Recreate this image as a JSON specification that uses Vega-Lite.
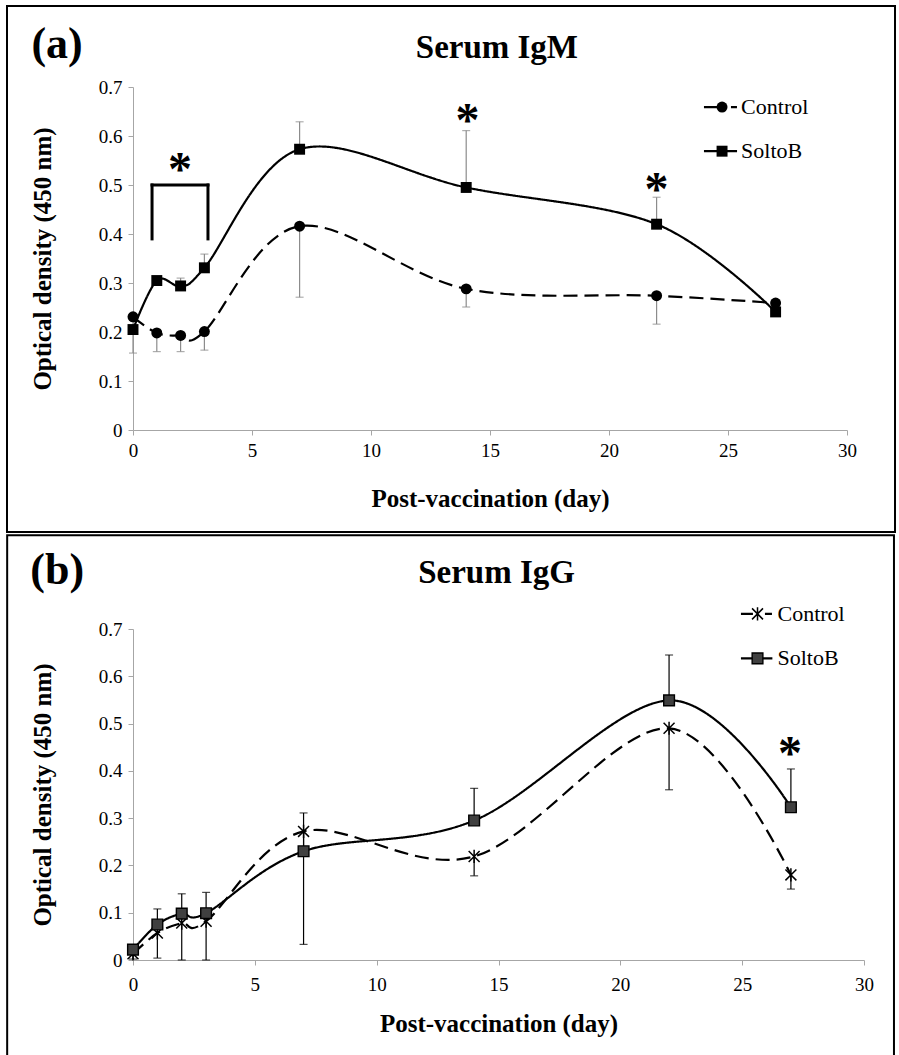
{
  "$schema": "https://vega.github.io/schema/vega-lite/v6.json",
  "autosize": {"type": "pad"},
  "padding": {"left": 6, "top": 5, "right": 0, "bottom": 0},
  "background": "white",
  "config": {
    "view": {"stroke": null},
    "font": "Liberation Serif",
    "style": {"guide-label": {"font": "Liberation Serif"}, "guide-title": {"font": "Liberation Serif"}},
    "axis": {"grid": false, "domainColor": "#a6a6a6", "tickColor": "#a6a6a6", "tickSize": 5, "labelFontSize": 19, "labelColor": "black", "labelFlush": false, "labelOverlap": false, "titleFontSize": 25, "titleFontWeight": "bold", "titleColor": "black", "labelFont": "Liberation Serif", "titleFont": "Liberation Serif"}
  },
  "spacing": 0,
  "datasets": {
    "pts": [
      {"panel": "a", "group": "Control", "day": 0, "od": 0.231, "err": 0.157},
      {"panel": "a", "group": "Control", "day": 1, "od": 0.198, "err": 0.160},
      {"panel": "a", "group": "Control", "day": 2, "od": 0.193, "err": 0.160},
      {"panel": "a", "group": "Control", "day": 3, "od": 0.201, "err": 0.163},
      {"panel": "a", "group": "Control", "day": 7, "od": 0.416, "err": 0.271},
      {"panel": "a", "group": "Control", "day": 14, "od": 0.288, "err": 0.251},
      {"panel": "a", "group": "Control", "day": 22, "od": 0.274, "err": 0.216},
      {"panel": "a", "group": "Control", "day": 27, "od": 0.259, "err": null},
      {"panel": "a", "group": "SoltoB", "day": 0, "od": 0.205, "err": null},
      {"panel": "a", "group": "SoltoB", "day": 1, "od": 0.305, "err": null},
      {"panel": "a", "group": "SoltoB", "day": 2, "od": 0.294, "err": 0.310},
      {"panel": "a", "group": "SoltoB", "day": 3, "od": 0.331, "err": 0.359},
      {"panel": "a", "group": "SoltoB", "day": 7, "od": 0.573, "err": 0.629},
      {"panel": "a", "group": "SoltoB", "day": 14, "od": 0.495, "err": 0.611},
      {"panel": "a", "group": "SoltoB", "day": 22, "od": 0.420, "err": 0.475},
      {"panel": "a", "group": "SoltoB", "day": 27, "od": 0.241, "err": null},
      {"panel": "b", "group": "Control", "day": 0, "od": 0.013, "err": 0.002},
      {"panel": "b", "group": "Control", "day": 1, "od": 0.057, "err": 0.004},
      {"panel": "b", "group": "Control", "day": 2, "od": 0.078, "err": 0.0},
      {"panel": "b", "group": "Control", "day": 3, "od": 0.082, "err": 0.0},
      {"panel": "b", "group": "Control", "day": 7, "od": 0.272, "err": 0.033},
      {"panel": "b", "group": "Control", "day": 14, "od": 0.219, "err": 0.178},
      {"panel": "b", "group": "Control", "day": 22, "od": 0.490, "err": 0.360},
      {"panel": "b", "group": "Control", "day": 27, "od": 0.180, "err": 0.150},
      {"panel": "b", "group": "SoltoB", "day": 0, "od": 0.022, "err": null},
      {"panel": "b", "group": "SoltoB", "day": 1, "od": 0.075, "err": 0.108},
      {"panel": "b", "group": "SoltoB", "day": 2, "od": 0.098, "err": 0.140},
      {"panel": "b", "group": "SoltoB", "day": 3, "od": 0.099, "err": 0.143},
      {"panel": "b", "group": "SoltoB", "day": 7, "od": 0.230, "err": 0.311},
      {"panel": "b", "group": "SoltoB", "day": 14, "od": 0.295, "err": 0.363},
      {"panel": "b", "group": "SoltoB", "day": 22, "od": 0.549, "err": 0.645},
      {"panel": "b", "group": "SoltoB", "day": 27, "od": 0.323, "err": 0.404}
    ]
  },
  "vconcat": [
    {
      "width": 714,
      "height": 343,
      "layer": [
        {
          "data": {"name": "pts"},
          "transform": [{"filter": "datum.panel == 'a'"}],
          "mark": {"type": "line", "interpolate": "cardinal", "strokeWidth": 2.2, "color": "black"},
          "encoding": {
            "x": {"field": "day", "type": "quantitative", "title": "Post-vaccination (day)", "scale": {"domain": [0, 30], "nice": false},
              "axis": {"title": "Post-vaccination (day)", "values": [0, 5, 10, 15, 20, 25, 30], "labelPadding": 6, "titlePadding": 26, "labelFont": "Liberation Serif", "titleFont": "Liberation Serif", "labelFontSize": 19, "titleFontSize": 25}},
            "y": {"field": "od", "type": "quantitative", "title": "Optical density (450 nm)", "scale": {"domain": [0, 0.7], "nice": false},
              "axis": {"title": "Optical density (450 nm)", "values": [0, 0.1, 0.2, 0.3, 0.4, 0.5, 0.6, 0.7], "format": ".1~f", "labelPadding": 6, "titlePadding": 43, "labelFont": "Liberation Serif", "titleFont": "Liberation Serif", "labelFontSize": 19, "titleFontSize": 25}},
            "strokeDash": {"field": "group", "type": "nominal", "scale": {"domain": ["Control", "SoltoB"], "range": [[14, 7], [1, 0]]}, "legend": null}
          }
        },
        {
          "data": {"values": [{}]},
          "mark": {"type": "rect", "fillOpacity": 0, "stroke": "black", "strokeWidth": 2},
          "encoding": {
            "x": {"datum": -5.294, "type": "quantitative", "scale": {"domain": [0, 30], "nice": false}},
            "x2": {"datum": 32.017},
            "y": {"datum": 0.8653, "type": "quantitative", "scale": {"domain": [0, 0.7], "nice": false}},
            "y2": {"datum": -0.2082}
          }
        },
        {
          "data": {"name": "pts"},
          "transform": [{"filter": "datum.panel == 'a' && isValid(datum.err)"}],
          "mark": {"type": "rule", "color": "#8c8c8c", "strokeWidth": 1.2},
          "encoding": {
            "x": {"field": "day", "type": "quantitative", "scale": {"domain": [0, 30], "nice": false}},
            "y": {"field": "od", "type": "quantitative", "scale": {"domain": [0, 0.7], "nice": false}},
            "y2": {"field": "err"}
          }
        },
        {
          "data": {"name": "pts"},
          "transform": [{"filter": "datum.panel == 'a' && isValid(datum.err)"}],
          "mark": {"type": "tick", "orient": "horizontal", "size": 8, "thickness": 1.2, "color": "#8c8c8c"},
          "encoding": {
            "x": {"field": "day", "type": "quantitative", "scale": {"domain": [0, 30], "nice": false}},
            "y": {"field": "err", "type": "quantitative", "scale": {"domain": [0, 0.7], "nice": false}}
          }
        },
        {
          "data": {"name": "pts"},
          "transform": [{"filter": "datum.panel == 'a'"}],
          "mark": {"type": "point", "filled": true, "color": "black", "opacity": 1, "size": 120},
          "encoding": {
            "x": {"field": "day", "type": "quantitative", "scale": {"domain": [0, 30], "nice": false}},
            "y": {"field": "od", "type": "quantitative", "scale": {"domain": [0, 0.7], "nice": false}},
            "shape": {"field": "group", "type": "nominal", "scale": {"domain": ["Control", "SoltoB"], "range": ["circle", "square"]}, "legend": null}
          }
        },
        {
          "data": {"values": [{}]},
          "mark": {"type": "rule", "color": "black", "strokeWidth": 3, "strokeCap": "square"},
          "encoding": {
            "x": {"datum": 0.8, "type": "quantitative", "scale": {"domain": [0, 30], "nice": false}},
            "y": {"datum": 0.39, "type": "quantitative", "scale": {"domain": [0, 0.7], "nice": false}},
            "y2": {"datum": 0.5}
          }
        },
        {
          "data": {"values": [{}]},
          "mark": {"type": "rule", "color": "black", "strokeWidth": 3, "strokeCap": "square"},
          "encoding": {
            "x": {"datum": 3.15, "type": "quantitative", "scale": {"domain": [0, 30], "nice": false}},
            "y": {"datum": 0.39, "type": "quantitative", "scale": {"domain": [0, 0.7], "nice": false}},
            "y2": {"datum": 0.5}
          }
        },
        {
          "data": {"values": [{}]},
          "mark": {"type": "rule", "color": "black", "strokeWidth": 3, "strokeCap": "square"},
          "encoding": {
            "x": {"datum": 0.8, "type": "quantitative", "scale": {"domain": [0, 30], "nice": false}},
            "x2": {"datum": 3.15},
            "y": {"datum": 0.5, "type": "quantitative", "scale": {"domain": [0, 0.7], "nice": false}}
          }
        },
        {
          "data": {"values": [{}]},
          "mark": {"type": "text", "text": "*", "fontSize": 48, "fontWeight": "bold", "align": "center", "baseline": "alphabetic", "dy": 23, "color": "black"},
          "encoding": {
            "x": {"datum": 1.97, "type": "quantitative", "scale": {"domain": [0, 30], "nice": false}},
            "y": {"datum": 0.547, "type": "quantitative", "scale": {"domain": [0, 0.7], "nice": false}}
          }
        },
        {
          "data": {"values": [{}]},
          "mark": {"type": "text", "text": "*", "fontSize": 48, "fontWeight": "bold", "align": "center", "baseline": "alphabetic", "dy": 23, "color": "black"},
          "encoding": {
            "x": {"datum": 14.05, "type": "quantitative", "scale": {"domain": [0, 30], "nice": false}},
            "y": {"datum": 0.646, "type": "quantitative", "scale": {"domain": [0, 0.7], "nice": false}}
          }
        },
        {
          "data": {"values": [{}]},
          "mark": {"type": "text", "text": "*", "fontSize": 48, "fontWeight": "bold", "align": "center", "baseline": "alphabetic", "dy": 23, "color": "black"},
          "encoding": {
            "x": {"datum": 22, "type": "quantitative", "scale": {"domain": [0, 30], "nice": false}},
            "y": {"datum": 0.507, "type": "quantitative", "scale": {"domain": [0, 0.7], "nice": false}}
          }
        },
        {
          "data": {"values": [{}]},
          "mark": {"type": "text", "text": "Serum IgM", "fontSize": 33, "fontWeight": "bold", "align": "center", "baseline": "middle", "color": "black"},
          "encoding": {
            "x": {"datum": 15.29, "type": "quantitative", "scale": {"domain": [0, 30], "nice": false}},
            "y": {"datum": 0.78, "type": "quantitative", "scale": {"domain": [0, 0.7], "nice": false}}
          }
        },
        {
          "data": {"values": [{}]},
          "mark": {"type": "text", "text": "(a)", "fontSize": 44, "fontWeight": "bold", "align": "center", "baseline": "middle", "color": "black"},
          "encoding": {
            "x": {"datum": -3.19, "type": "quantitative", "scale": {"domain": [0, 30], "nice": false}},
            "y": {"datum": 0.785, "type": "quantitative", "scale": {"domain": [0, 0.7], "nice": false}}
          }
        },
        {
          "data": {"values": [{}]},
          "mark": {"type": "rule", "color": "black", "strokeWidth": 2.2, "strokeDash": [14, 13, 6, 50]},
          "encoding": {
            "x": {"datum": 23.99, "type": "quantitative", "scale": {"domain": [0, 30], "nice": false}},
            "x2": {"datum": 25.38},
            "y": {"datum": 0.659, "type": "quantitative", "scale": {"domain": [0, 0.7], "nice": false}}
          }
        },
        {
          "data": {"values": [{}]},
          "mark": {"type": "point", "shape": "circle", "filled": true, "color": "black", "opacity": 1, "size": 120},
          "encoding": {
            "x": {"datum": 24.75, "type": "quantitative", "scale": {"domain": [0, 30], "nice": false}},
            "y": {"datum": 0.659, "type": "quantitative", "scale": {"domain": [0, 0.7], "nice": false}}
          }
        },
        {
          "data": {"values": [{}]},
          "mark": {"type": "text", "text": "Control", "fontSize": 22, "align": "left", "baseline": "middle", "color": "black"},
          "encoding": {
            "x": {"datum": 25.55, "type": "quantitative", "scale": {"domain": [0, 30], "nice": false}},
            "y": {"datum": 0.659, "type": "quantitative", "scale": {"domain": [0, 0.7], "nice": false}}
          }
        },
        {
          "data": {"values": [{}]},
          "mark": {"type": "rule", "color": "black", "strokeWidth": 2.2},
          "encoding": {
            "x": {"datum": 23.99, "type": "quantitative", "scale": {"domain": [0, 30], "nice": false}},
            "x2": {"datum": 25.38},
            "y": {"datum": 0.569, "type": "quantitative", "scale": {"domain": [0, 0.7], "nice": false}}
          }
        },
        {
          "data": {"values": [{}]},
          "mark": {"type": "point", "shape": "square", "filled": true, "color": "black", "opacity": 1, "size": 120},
          "encoding": {
            "x": {"datum": 24.75, "type": "quantitative", "scale": {"domain": [0, 30], "nice": false}},
            "y": {"datum": 0.569, "type": "quantitative", "scale": {"domain": [0, 0.7], "nice": false}}
          }
        },
        {
          "data": {"values": [{}]},
          "mark": {"type": "text", "text": "SoltoB", "fontSize": 22, "align": "left", "baseline": "middle", "color": "black"},
          "encoding": {
            "x": {"datum": 25.55, "type": "quantitative", "scale": {"domain": [0, 30], "nice": false}},
            "y": {"datum": 0.569, "type": "quantitative", "scale": {"domain": [0, 0.7], "nice": false}}
          }
        }
      ]
    },
    {
      "width": 731,
      "height": 331,
      "layer": [
        {
          "data": {"name": "pts"},
          "transform": [{"filter": "datum.panel == 'b'"}],
          "mark": {"type": "line", "interpolate": "cardinal", "strokeWidth": 2.2, "color": "black"},
          "encoding": {
            "x": {"field": "day", "type": "quantitative", "title": "Post-vaccination (day)", "scale": {"domain": [0, 30], "nice": false},
              "axis": {"title": "Post-vaccination (day)", "values": [0, 5, 10, 15, 20, 25, 30], "labelPadding": 10, "titlePadding": 17, "labelFont": "Liberation Serif", "titleFont": "Liberation Serif", "labelFontSize": 19, "titleFontSize": 25}},
            "y": {"field": "od", "type": "quantitative", "title": "Optical density (450 nm)", "scale": {"domain": [0, 0.7], "nice": false},
              "axis": {"title": "Optical density (450 nm)", "values": [0, 0.1, 0.2, 0.3, 0.4, 0.5, 0.6, 0.7], "format": ".1~f", "labelPadding": 6, "titlePadding": 43, "labelFont": "Liberation Serif", "titleFont": "Liberation Serif", "labelFontSize": 19, "titleFontSize": 25}},
            "strokeDash": {"field": "group", "type": "nominal", "scale": {"domain": ["Control", "SoltoB"], "range": [[14, 7], [1, 0]]}, "legend": null}
          }
        },
        {
          "data": {"values": [{}]},
          "mark": {"type": "rect", "fillOpacity": 0, "stroke": "black", "strokeWidth": 2},
          "encoding": {
            "x": {"datum": -5.164, "type": "quantitative", "scale": {"domain": [0, 30], "nice": false}},
            "x2": {"datum": 31.23},
            "y": {"datum": 0.8985, "type": "quantitative", "scale": {"domain": [0, 0.7], "nice": false}},
            "y2": {"datum": -0.203}
          }
        },
        {
          "data": {"name": "pts"},
          "transform": [{"filter": "datum.panel == 'b' && isValid(datum.err)"}],
          "mark": {"type": "rule", "color": "black", "strokeWidth": 1.2},
          "encoding": {
            "x": {"field": "day", "type": "quantitative", "scale": {"domain": [0, 30], "nice": false}},
            "y": {"field": "od", "type": "quantitative", "scale": {"domain": [0, 0.7], "nice": false}},
            "y2": {"field": "err"}
          }
        },
        {
          "data": {"name": "pts"},
          "transform": [{"filter": "datum.panel == 'b' && isValid(datum.err)"}],
          "mark": {"type": "tick", "orient": "horizontal", "size": 8, "thickness": 1.2, "color": "black"},
          "encoding": {
            "x": {"field": "day", "type": "quantitative", "scale": {"domain": [0, 30], "nice": false}},
            "y": {"field": "err", "type": "quantitative", "scale": {"domain": [0, 0.7], "nice": false}}
          }
        },
        {
          "data": {"name": "pts"},
          "transform": [{"filter": "datum.panel == 'b' && datum.group == 'Control'"}],
          "mark": {"type": "point", "shape": "M-1,-1L1,1M-1,1L1,-1M0,-1.2L0,1.2", "filled": false, "stroke": "black", "strokeWidth": 1.5, "opacity": 1, "size": 120},
          "encoding": {
            "x": {"field": "day", "type": "quantitative", "scale": {"domain": [0, 30], "nice": false}},
            "y": {"field": "od", "type": "quantitative", "scale": {"domain": [0, 0.7], "nice": false}}
          }
        },
        {
          "data": {"name": "pts"},
          "transform": [{"filter": "datum.panel == 'b' && datum.group == 'SoltoB'"}],
          "mark": {"type": "point", "shape": "square", "filled": true, "fill": "#404040", "stroke": "black", "strokeWidth": 1.4, "opacity": 1, "size": 115},
          "encoding": {
            "x": {"field": "day", "type": "quantitative", "scale": {"domain": [0, 30], "nice": false}},
            "y": {"field": "od", "type": "quantitative", "scale": {"domain": [0, 0.7], "nice": false}}
          }
        },
        {
          "data": {"values": [{}]},
          "mark": {"type": "text", "text": "*", "fontSize": 48, "fontWeight": "bold", "align": "center", "baseline": "alphabetic", "dy": 23, "color": "black"},
          "encoding": {
            "x": {"datum": 26.96, "type": "quantitative", "scale": {"domain": [0, 30], "nice": false}},
            "y": {"datum": 0.452, "type": "quantitative", "scale": {"domain": [0, 0.7], "nice": false}}
          }
        },
        {
          "data": {"values": [{}]},
          "mark": {"type": "text", "text": "Serum IgG", "fontSize": 33, "fontWeight": "bold", "align": "center", "baseline": "middle", "color": "black"},
          "encoding": {
            "x": {"datum": 14.92, "type": "quantitative", "scale": {"domain": [0, 30], "nice": false}},
            "y": {"datum": 0.818, "type": "quantitative", "scale": {"domain": [0, 0.7], "nice": false}}
          }
        },
        {
          "data": {"values": [{}]},
          "mark": {"type": "text", "text": "(b)", "fontSize": 44, "fontWeight": "bold", "align": "center", "baseline": "middle", "color": "black"},
          "encoding": {
            "x": {"datum": -3.11, "type": "quantitative", "scale": {"domain": [0, 30], "nice": false}},
            "y": {"datum": 0.822, "type": "quantitative", "scale": {"domain": [0, 0.7], "nice": false}}
          }
        },
        {
          "data": {"values": [{}]},
          "mark": {"type": "rule", "color": "black", "strokeWidth": 2.2, "strokeDash": [12, 12, 7, 50]},
          "encoding": {
            "x": {"datum": 24.95, "type": "quantitative", "scale": {"domain": [0, 30], "nice": false}},
            "x2": {"datum": 26.24},
            "y": {"datum": 0.732, "type": "quantitative", "scale": {"domain": [0, 0.7], "nice": false}}
          }
        },
        {
          "data": {"values": [{}]},
          "mark": {"type": "point", "shape": "M-1,-1L1,1M-1,1L1,-1M0,-1.2L0,1.2", "filled": false, "stroke": "black", "strokeWidth": 1.5, "opacity": 1, "size": 120},
          "encoding": {
            "x": {"datum": 25.63, "type": "quantitative", "scale": {"domain": [0, 30], "nice": false}},
            "y": {"datum": 0.732, "type": "quantitative", "scale": {"domain": [0, 0.7], "nice": false}}
          }
        },
        {
          "data": {"values": [{}]},
          "mark": {"type": "text", "text": "Control", "fontSize": 22, "align": "left", "baseline": "middle", "color": "black"},
          "encoding": {
            "x": {"datum": 26.45, "type": "quantitative", "scale": {"domain": [0, 30], "nice": false}},
            "y": {"datum": 0.732, "type": "quantitative", "scale": {"domain": [0, 0.7], "nice": false}}
          }
        },
        {
          "data": {"values": [{}]},
          "mark": {"type": "rule", "color": "black", "strokeWidth": 2.2},
          "encoding": {
            "x": {"datum": 24.95, "type": "quantitative", "scale": {"domain": [0, 30], "nice": false}},
            "x2": {"datum": 26.24},
            "y": {"datum": 0.638, "type": "quantitative", "scale": {"domain": [0, 0.7], "nice": false}}
          }
        },
        {
          "data": {"values": [{}]},
          "mark": {"type": "point", "shape": "square", "filled": true, "fill": "#404040", "stroke": "black", "strokeWidth": 1.4, "opacity": 1, "size": 115},
          "encoding": {
            "x": {"datum": 25.63, "type": "quantitative", "scale": {"domain": [0, 30], "nice": false}},
            "y": {"datum": 0.638, "type": "quantitative", "scale": {"domain": [0, 0.7], "nice": false}}
          }
        },
        {
          "data": {"values": [{}]},
          "mark": {"type": "text", "text": "SoltoB", "fontSize": 22, "align": "left", "baseline": "middle", "color": "black"},
          "encoding": {
            "x": {"datum": 26.45, "type": "quantitative", "scale": {"domain": [0, 30], "nice": false}},
            "y": {"datum": 0.638, "type": "quantitative", "scale": {"domain": [0, 0.7], "nice": false}}
          }
        }
      ]
    }
  ]
}
